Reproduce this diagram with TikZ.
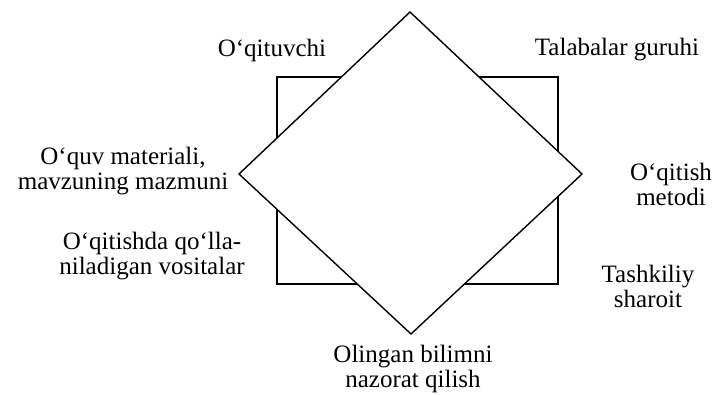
\documentclass[tikz,border=0pt]{standalone}
\usepackage{fontspec}
\setmainfont{Liberation Serif}
\begin{document}
\begin{tikzpicture}[x=1pt,y=-1pt,
  lbl/.style={align=center,inner sep=0pt,font=\fontsize{25}{25}\selectfont},
  shape line/.style={line width=1.4pt,line join=miter}]
\useasboundingbox (0,0) rectangle (718,395);
\coordinate (sqTL) at (277,77);
\coordinate (sqBR) at (558,284);
\draw[shape line] (sqTL) rectangle (sqBR);
\coordinate (dT) at (410,12);
\coordinate (dR) at (582,174);
\coordinate (dB) at (411,334);
\coordinate (dL) at (239,174);
\draw[shape line,fill=white] (dT) -- (dR) -- (dB) -- (dL) -- cycle;
\node[lbl] (t1) at (272,50) {O‘qituvchi};
\node[lbl] (t2) at (617,50) {Talabalar guruhi};
\node[lbl] (t3) at (123,171) {O‘quv materiali,\\mavzuning mazmuni};
\node[lbl] (t4) at (152,256) {O‘qitishda qo‘lla-\\niladigan vositalar};
\node[lbl] (t5) at (671,184) {O‘qitish\\metodi};
\node[lbl] (t6) at (648,286) {Tashkiliy\\sharoit};
\node[lbl] (t7) at (413,369) {Olingan bilimni\\nazorat qilish};
\end{tikzpicture}
\end{document}
